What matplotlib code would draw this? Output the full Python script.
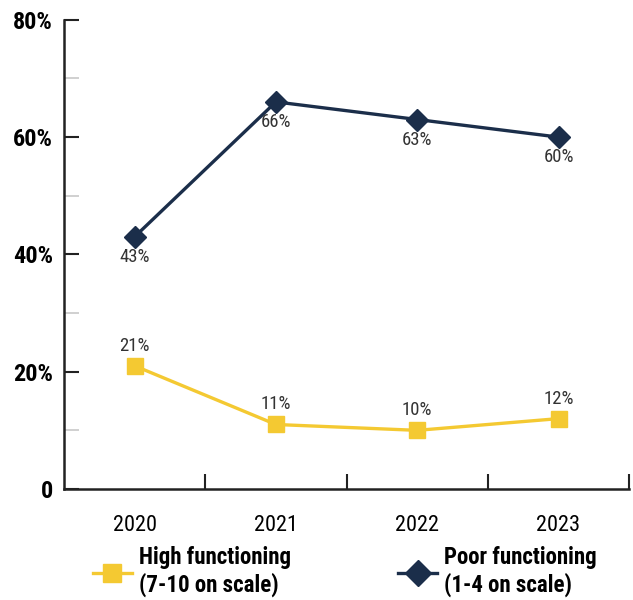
import matplotlib.pyplot as plt
from matplotlib import font_manager
from matplotlib.lines import Line2D

# prefer a narrow face; fall back to condensed DejaVu
installed = {f.name for f in font_manager.fontManager.ttflist}
narrow = [n for n in ["Liberation Sans Narrow", "Roboto Condensed",
                      "Open Sans Condensed"] if n in installed]
plt.rcParams['font.family'] = narrow[:1] + ['DejaVu Sans']
plt.rcParams['font.stretch'] = 'condensed'

years = ["2020", "2021", "2022", "2023"]
high_functioning = [21, 11, 10, 12]
poor_functioning = [43, 66, 63, 60]

yellow = "#F4C932"
navy = "#1B2E4A"

fig = plt.figure(figsize=(6.33, 6.0), dpi=100)
ax = fig.add_axes([0.101, 0.185, 0.893, 0.782])

x = list(range(len(years)))
ax.plot(x, high_functioning, color=yellow, lw=2.4, marker="s", ms=11,
        zorder=3)
ax.plot(x, poor_functioning, color=navy, lw=2.4, marker="D", ms=11,
        zorder=3)

for i, v in enumerate(high_functioning):
    ax.annotate(f"{v}%", (i, v), xytext=(0, 8), textcoords="offset points",
                ha="center", va="bottom", fontsize=13.5, color="#333333")
for i, v in enumerate(poor_functioning):
    ax.annotate(f"{v}%", (i, v), xytext=(0, -8), textcoords="offset points",
                ha="center", va="top", fontsize=13.5, color="#333333")

ax.set_xlim(-0.5, len(years) - 0.5)
ax.set_ylim(0, 80)

# y axis: bold major labels, grey minor ticks between them
ax.set_yticks([0, 20, 40, 60, 80])
ax.set_yticklabels(["0", "20%", "40%", "60%", "80%"], fontsize=17.5,
                   fontweight="bold")
ax.set_yticks([10, 30, 50, 70], minor=True)
ax.tick_params(axis="y", which="major", direction="in", length=11, width=1.5,
               color="#222222", pad=8)
ax.tick_params(axis="y", which="minor", direction="in", length=11, width=1.2,
               color="#c8c8c8")

# x axis: ticks at category boundaries, year labels centred between them
ax.set_xticks([0.5, 1.5, 2.5, 3.5])
ax.set_xticklabels([])
ax.set_xticks(x, minor=True)
ax.set_xticklabels(years, minor=True, fontsize=16)
ax.tick_params(axis="x", which="major", direction="in", length=11, width=1.5,
               color="#222222")
ax.tick_params(axis="x", which="minor", length=0, pad=19)

for side in ["top", "right"]:
    ax.spines[side].set_visible(False)
for side in ["left", "bottom"]:
    ax.spines[side].set_linewidth(1.8)
    ax.spines[side].set_color("#222222")

handles = [
    Line2D([], [], color=yellow, lw=2.4, marker="s", ms=13),
    Line2D([], [], color=navy, lw=2.4, marker="D", ms=13),
]
labels = ["High functioning\n(7-10 on scale)", "Poor functioning\n(1-4 on scale)"]
fig.legend(handles, labels, loc="lower left", bbox_to_anchor=(0.114, -0.03),
           ncol=2, frameon=False, handlelength=1.7, columnspacing=4.7,
           handletextpad=0.3, labelspacing=0.2,
           prop={"size": 16.5, "weight": "bold"})

fig.savefig("out.png", dpi=100)
